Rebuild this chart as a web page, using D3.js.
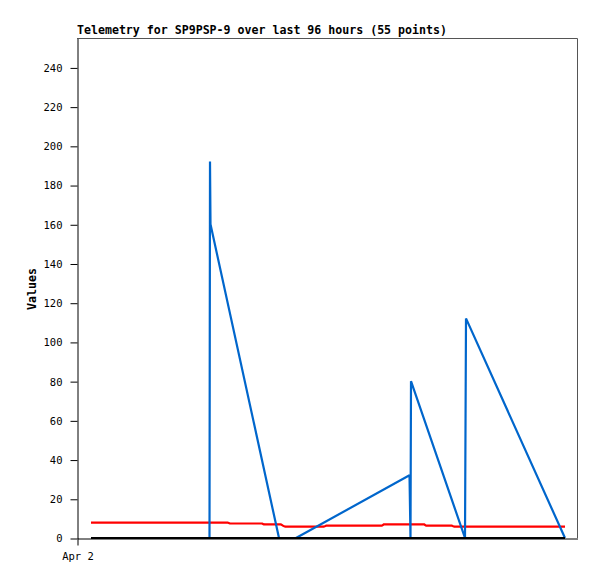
<!DOCTYPE html>
<html>
<head>
<meta charset="utf-8">
<script src="https://cdn.jsdelivr.net/npm/d3@7"></script>
<style>
  body { margin: 0; background: #fff; }
  svg { display: block; }
  .tick text { font-family: "DejaVu Sans Mono", monospace; font-size: 10.5px; fill: #000; }
  .ttl { font-family: "DejaVu Sans Mono", monospace; font-size: 11.6px; font-weight: bold; }
</style>
</head>
<body>
<svg></svg>
<script>
// chart text
let titleText = 'Telemetry for SP9PSP-9 over last 96 hours (55 points)';
let yLabel = 'Values';
let yTicks = [0, 20, 40, 60, 80, 100, 120, 140, 160, 180, 200, 220, 240];
let xTickLabels = ['Apr 2'];

// red channel
let redTimes = ['2024-04-02 02:48', '2024-04-03 06:12', '2024-04-03 06:36', '2024-04-03 13:00',
  '2024-04-03 13:24', '2024-04-03 16:48', '2024-04-03 17:12', '2024-04-03 17:36',
  '2024-04-04 01:24', '2024-04-04 01:48', '2024-04-04 13:00', '2024-04-04 13:24',
  '2024-04-04 21:24', '2024-04-04 21:48', '2024-04-05 03:00', '2024-04-05 03:24',
  '2024-04-06 01:36'];
let redValues = [7.8, 7.8, 7.4, 7.4, 6.9, 6.9, 6.3, 5.8, 5.8, 6.3, 6.3, 7.0, 7.0, 6.3, 6.3, 5.8, 5.8];

// blue channel
let blueTimes = ['2024-04-02 02:48', '2024-04-03 02:30', '2024-04-03 02:36', '2024-04-03 02:42',
  '2024-04-03 16:24', '2024-04-03 19:48', '2024-04-04 18:30', '2024-04-04 18:36',
  '2024-04-04 18:42', '2024-04-04 18:48', '2024-04-05 05:36', '2024-04-05 05:48',
  '2024-04-06 01:36'];
let blueValues = [0, 0, 192, 160, 0, 0, 32, 16, 0, 80, 0, 112, 0];

// black channel
let blackTimes = ['2024-04-02 02:48', '2024-04-06 01:36'];
let blackValues = [0, 0];

let parse = d3.utcParse('%Y-%m-%d %H:%M');

let canvas = { width: 597, height: 579 };
let plot = { left: 77, right: 577, top: 38, bottom: 538 };

let svg = d3.select('svg')
  .attr('width', canvas.width)
  .attr('height', canvas.height);

let xScale = d3.scaleUtc()
  .domain([parse('2024-04-02 00:00'), parse('2024-04-06 04:00')])
  .range([plot.left, plot.right]);

let yScale = d3.scaleLinear()
  .domain([0, 255])
  .range([plot.bottom, plot.top]);

// frame: gray top / right
svg.append('path')
  .attr('d', `M${plot.left},${plot.top + 0.5}H${plot.right + 0.5}V${plot.bottom}`)
  .attr('fill', 'none')
  .attr('stroke', '#555')
  .attr('stroke-width', 1);

// y axis
let yAxis = d3.axisLeft(yScale)
  .tickValues(yTicks)
  .tickSize(7)
  .tickSizeOuter(0)
  .tickPadding(8);
let gy = svg.append('g')
  .attr('transform', `translate(${plot.left + 0.5},0.5)`)
  .call(yAxis);
gy.select('.domain').attr('stroke', '#000');
gy.selectAll('.tick line').attr('stroke', '#000');

// x axis
let xAxis = d3.axisBottom(xScale)
  .tickValues([parse('2024-04-02 00:00')])
  .tickFormat((d, i) => xTickLabels[i])
  .tickSize(7)
  .tickSizeOuter(0)
  .tickPadding(7);
let gx = svg.append('g')
  .attr('transform', `translate(0.5,${plot.bottom + 0.5})`)
  .call(xAxis);
gx.select('.domain').attr('stroke', '#000');
gx.selectAll('.tick line').attr('stroke', '#000');

// lines
function drawSeries(times, values, color, w) {
  let pts = times.map((t, i) => [parse(t), values[i]]);
  svg.append('path')
    .datum(pts)
    .attr('fill', 'none')
    .attr('stroke', color)
    .attr('stroke-width', w)
    .attr('stroke-linejoin', 'bevel')
    .attr('d', d3.line().x(d => xScale(d[0])).y(d => yScale(d[1])));
}
drawSeries(redTimes, redValues, '#ff0000', 2.2);
drawSeries(blueTimes, blueValues, '#0066cc', 2.2);
drawSeries(blackTimes, blackValues, '#000000', 2.2);

// title and y label
svg.append('text')
  .attr('class', 'ttl')
  .attr('x', plot.left)
  .attr('y', 34)
  .text(titleText);

svg.append('text')
  .attr('class', 'ttl')
  .attr('text-anchor', 'middle')
  .attr('transform', 'translate(36,289) rotate(-90)')
  .text(yLabel);
</script>
</body>
</html>
